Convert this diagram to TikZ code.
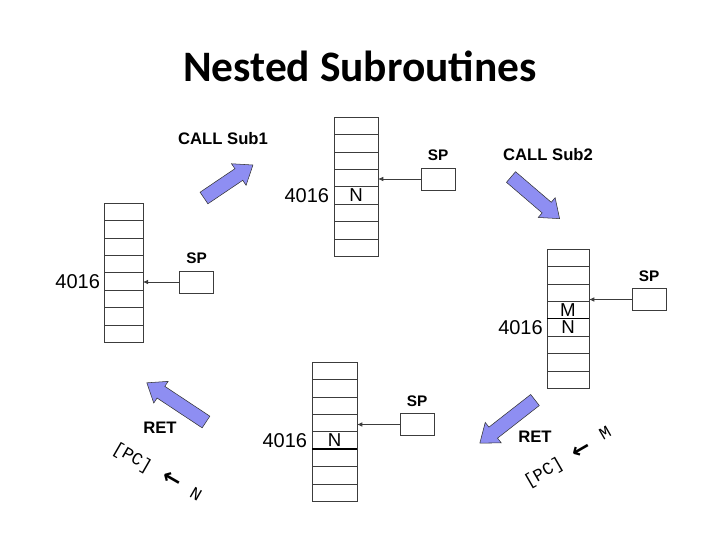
\documentclass[tikz,border=0pt]{standalone}
\usepackage{fontspec}
\setmainfont{Liberation Sans}
\newfontfamily\titlefont{Carlito}
\newfontfamily\courierfont{Liberation Mono}
\newfontfamily\arrowfont{DejaVu Sans}
\usetikzlibrary{arrows.meta,positioning}
\definecolor{arrowblue}{RGB}{142,142,242}
\definecolor{linegray}{RGB}{60,60,60}

\tikzset{
  cell/.style={draw=linegray, minimum height=13.05pt, inner sep=0pt, outer sep=0pt},
  spbox/.style={draw=linegray, fill=white, minimum width=25.5pt, minimum height=16.5pt, inner sep=0pt},
  splabel/.style={font=\fontsize{11.5}{13}\selectfont\bfseries},
  addr/.style={font=\fontsize{15}{17}\selectfont, inner sep=0pt},
  celltext/.style={font=\fontsize{14}{16}\selectfont, inner sep=0pt},
  ptr/.style={-{Latex[length=4pt,width=3.5pt]}, linegray, semithick},
  opname/.style={font=\fontsize{12.5}{14}\selectfont\bfseries},
  fatarrow/.style={draw=black!80, fill=arrowblue, line join=miter},
  regtext/.style={font=\courierfont\fontsize{13}{15}\selectfont, inner sep=0pt},
  backarrow/.style={font=\arrowfont\bfseries\fontsize{17}{19}\selectfont, inner sep=0pt},
  pics/fat arrow/.style={code={
    \draw[fatarrow] (0,-7) -- ({#1-17},-7) -- ({#1-17},-13) -- (#1,0)
      -- ({#1-17},13) -- ({#1-17},7) -- (0,7) -- cycle;
  }},
}

\begin{document}
\begin{tikzpicture}[x=0.75pt,y=-0.75pt]
  \useasboundingbox (0,0) rectangle (720,540);

  \node[font=\titlefont\bfseries\fontsize{32.6}{36}\selectfont, anchor=base] (title) at (360,81) {Nested Subroutines};

  % stack in main program
  \foreach \i in {1,...,8}
    \node[cell, minimum width=29pt] (main\i) at (123.5,{194.3+17.4*\i}) {};
  \node[addr, left=3pt of main5] {4016};
  \node[spbox] (spmain) at (196.5,282) {};
  \node[splabel, above=1.5pt of spmain] {SP};
  \draw[ptr] (spmain.west) -- (spmain.west -| main5.east);

  % stack inside Sub1
  \foreach \i in {1,...,8}
    \node[cell, minimum width=33pt] (subA\i) at (356,{108.3+17.4*\i}) {};
  \node[celltext] at (subA5) {N};
  \node[addr, left=3.5pt of subA5] {4016};
  \node[spbox] (spsubA) at (438,179) {};
  \node[splabel, above=1.5pt of spsubA] {SP};
  \draw[ptr] (spsubA.west) -- (spsubA.west -| subA4.east);

  % stack inside Sub2
  \foreach \i in {1,...,8}
    \node[cell, minimum width=31.5pt] (subB\i) at (568,{240.3+17.4*\i}) {};
  \node[celltext] at (subB4) {M};
  \node[celltext] at (subB5) {N};
  \draw[very thick] (subB4.south west) -- (subB4.south east);
  \node[addr, left=3pt of subB5] {4016};
  \node[spbox] (spsubB) at (649,299.5) {};
  \node[splabel, above=1.5pt of spsubB] {SP};
  \draw[ptr] (spsubB.west) -- (spsubB.west -| subB3.east);

  % stack after first RET
  \foreach \i in {1,...,8}
    \node[cell, minimum width=33.75pt] (back\i) at (334.5,{353.3+17.4*\i}) {};
  \node[celltext] at (back5) {N};
  \draw[very thick] (back5.south west) -- (back5.south east);
  \node[addr, left=3.5pt of back5] {4016};
  \node[spbox] (spback) at (417,424.5) {};
  \node[splabel, above=1.5pt of spback] {SP};
  \draw[ptr] (spback.west) -- (spback.west -| back4.east);

  % big arrows between the steps
  \pic[rotate=34] at (204,198) {fat arrow=59};
  \pic[rotate=-40.6] at (511,177) {fat arrow=64};
  \pic[rotate=218] at (535,400) {fat arrow=70};
  \pic[rotate=146.5] at (206,422) {fat arrow=71};

  \node[opname] (call1) at (223,139) {CALL Sub1};
  \node[opname] (call2) at (548,155) {CALL Sub2};
  \node[opname] (retR) at (535,437) {RET};
  \node[opname] (retL) at (160,428) {RET};

  % PC reloaded on return
  \node[regtext, rotate=-30] (pcL) at (132,458) {[PC]};
  \node[backarrow, rotate=-30] (arL) at (172,480) {←};
  \node[regtext, rotate=-30] (nL) at (196,494) {N};

  \node[regtext, rotate=30] (pcR) at (544,473) {[PC]};
  \node[backarrow, rotate=30] (arR) at (582,450) {←};
  \node[regtext, rotate=30] (mR) at (605,433) {M};
\end{tikzpicture}
\end{document}
